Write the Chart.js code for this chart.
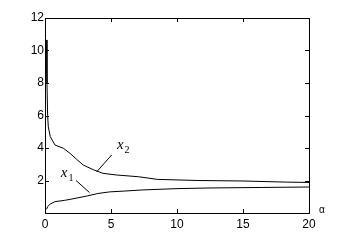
<!DOCTYPE html>
<html><head><meta charset="utf-8">
<script src="https://cdn.jsdelivr.net/npm/chart.js@4/dist/chart.umd.min.js"></script>
<style>html,body{margin:0;padding:0;background:#fff}#w{width:342px;height:240px}</style>
</head><body><div id="w"><canvas id="c" width="342" height="240"></canvas></div>
<script>
const alphaX2 = [0.12, 0.15, 0.2, 0.25, 0.4, 0.76, 1.4, 1.9, 2.4, 2.9, 3.7, 4.4, 5.4, 7.1, 8.5, 11.6, 15, 18.3, 20];
const x2Values = [10.65, 8.0, 6.0, 5.3, 4.7, 4.18, 3.98, 3.67, 3.3, 2.95, 2.65, 2.44, 2.34, 2.23, 2.07, 2.0, 1.97, 1.9, 1.88];
const alphaX1 = [0.12, 0.2, 0.4, 0.76, 1.5, 1.9, 3.2, 4.0, 4.9, 6.0, 7.4, 10, 12.5, 17.5, 20];
const x1Values = [0.23, 0.4, 0.55, 0.7, 0.78, 0.84, 1.05, 1.2, 1.3, 1.35, 1.42, 1.5, 1.54, 1.58, 1.6];
const xTicks = [0, 5, 10, 15, 20];
const yTicks = [2, 4, 6, 8, 10, 12];

const pts = (xs, ys) => xs.map((x, i) => ({x, y: ys[i]}));

const boxPlugin = {
  id: 'box',
  afterDraw(chart) {
    const {ctx, chartArea: a, scales: {x, y}} = chart;
    ctx.save();
    ctx.strokeStyle = '#000';
    ctx.lineWidth = 1;
    ctx.beginPath();
    ctx.rect(Math.round(a.left) + 0.5, Math.round(a.top) + 0.5, Math.round(a.right - a.left), Math.round(a.bottom - a.top));
    ctx.stroke();
    const tl = 4;
    ctx.beginPath();
    xTicks.forEach(v => {
      const px = Math.round(x.getPixelForValue(v)) + 0.5;
      ctx.moveTo(px, a.bottom); ctx.lineTo(px, a.bottom - tl);
      ctx.moveTo(px, a.top); ctx.lineTo(px, a.top + tl);
    });
    yTicks.concat([0]).forEach(v => {
      const py = Math.round(y.getPixelForValue(v)) + 0.5;
      ctx.moveTo(a.left, py); ctx.lineTo(a.left + tl, py);
      ctx.moveTo(a.right, py); ctx.lineTo(a.right - tl, py);
    });
    ctx.stroke();
    // leader lines
    ctx.beginPath();
    ctx.moveTo(x.getPixelForValue(3.92), y.getPixelForValue(2.54));
    ctx.lineTo(x.getPixelForValue(5.05), y.getPixelForValue(3.57));
    ctx.moveTo(x.getPixelForValue(2.35), y.getPixelForValue(2.0));
    ctx.lineTo(x.getPixelForValue(3.37), y.getPixelForValue(1.26));
    ctx.stroke();
    // labels
    ctx.fillStyle = '#000';
    ctx.textBaseline = 'alphabetic';
    ctx.textAlign = 'left';
    const lab = (ax, ay, sub) => {
      const px = x.getPixelForValue(ax), py = y.getPixelForValue(ay);
      ctx.font = 'italic 15px "Liberation Serif"';
      ctx.fillText('x', px, py);
      const w = ctx.measureText('x').width;
      ctx.font = '10px "Liberation Serif"';
      ctx.fillText(sub, px + w + 1, py + 4);
    };
    lab(5.45, 3.95, '2');
    lab(1.2, 2.2, '1');
    ctx.font = '10px "Liberation Sans"';
    ctx.fillText('α', a.right + 10, a.bottom);
    ctx.restore();
  }
};

new Chart(document.getElementById('c'), {
  type: 'scatter',
  data: {
    datasets: [
      {data: pts(alphaX2, x2Values), showLine: true, borderColor: '#000', borderWidth: 1, pointRadius: 0, tension: 0, fill: false},
      {data: pts(alphaX1, x1Values), showLine: true, borderColor: '#000', borderWidth: 1, pointRadius: 0, tension: 0, fill: false}
    ]
  },
  options: {
    responsive: false,
    animation: false,
    devicePixelRatio: 1,
    layout: {padding: {top: 18, right: 33, left: 0, bottom: 0}},
    plugins: {legend: {display: false}, tooltip: {enabled: false}},
    scales: {
      x: {
        type: 'linear', min: 0, max: 20,
        afterFit(s) { s.height = 27; },
        afterBuildTicks(s) { s.ticks = xTicks.map(v => ({value: v})); },
        grid: {display: true, drawOnChartArea: false, drawTicks: false, color: '#000'},
        border: {display: true, color: '#000'},
        ticks: {color: '#000', padding: 4, maxRotation: 0, font: {family: 'Liberation Sans', size: 12}}
      },
      y: {
        type: 'linear', min: 0, max: 12,
        afterFit(s) { s.width = 45; },
        afterBuildTicks(s) { s.ticks = yTicks.map(v => ({value: v})); },
        grid: {display: true, drawOnChartArea: false, drawTicks: false, color: '#000'},
        border: {display: true, color: '#000'},
        ticks: {color: '#000', padding: 1, font: {family: 'Liberation Sans', size: 12}}
      }
    }
  },
  plugins: [boxPlugin]
});
</script>
</body></html>
